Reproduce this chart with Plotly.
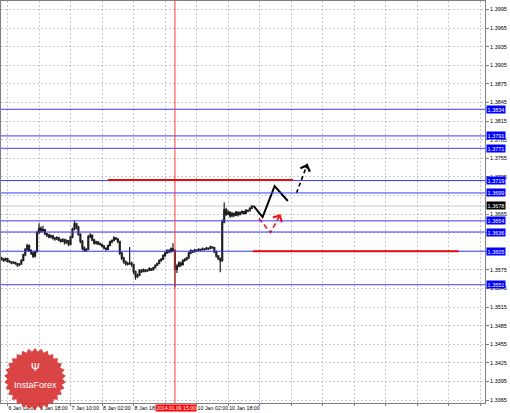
import math
import plotly.graph_objects as go

# ---------------- data ----------------
bar_index = list(range(128))

open_ = [
    1.3594, 1.3592, 1.3590, 1.3593, 1.3589, 1.3588, 1.3586, 1.3587, 1.3585, 1.3583,
    1.3584, 1.3590, 1.3599, 1.3608, 1.3614, 1.3606, 1.3602, 1.3597, 1.3604, 1.3635,
    1.3642, 1.3638, 1.3640, 1.3633, 1.3631, 1.3628, 1.3630, 1.3626, 1.3625, 1.3627,
    1.3623, 1.3621, 1.3624, 1.3619, 1.3622, 1.3616, 1.3628, 1.3641, 1.3649, 1.3644,
    1.3632, 1.3621, 1.3610, 1.3606, 1.3608, 1.3628, 1.3631, 1.3623, 1.3618, 1.3620,
    1.3617, 1.3616, 1.3613, 1.3610, 1.3608, 1.3614, 1.3620, 1.3622, 1.3626, 1.3625,
    1.3621, 1.3602, 1.3594, 1.3588, 1.3585, 1.3584, 1.3586, 1.3584, 1.3572, 1.3564,
    1.3566, 1.3574, 1.3572, 1.3575, 1.3573, 1.3574, 1.3577, 1.3575, 1.3578, 1.3582,
    1.3585, 1.3590, 1.3592, 1.3598, 1.3602, 1.3606, 1.3604, 1.3609, 1.3606, 1.3576,
    1.3581, 1.3586, 1.3583, 1.3590, 1.3592, 1.3594, 1.3602, 1.3606, 1.3604, 1.3607,
    1.3606, 1.3608, 1.3607, 1.3609, 1.3608, 1.3610, 1.3609, 1.3612, 1.3611, 1.3604,
    1.3597, 1.3593, 1.3590, 1.3652, 1.3672, 1.3665, 1.3668, 1.3662, 1.3666, 1.3663,
    1.3668, 1.3664, 1.3667, 1.3669, 1.3666, 1.3671, 1.3670, 1.3674,
]
high = [
    1.3596, 1.3594, 1.3595, 1.3594, 1.3591, 1.3589, 1.3589, 1.3588, 1.3586, 1.3586,
    1.3592, 1.3601, 1.3610, 1.3617, 1.3616, 1.3608, 1.3604, 1.3606, 1.3638, 1.3650,
    1.3645, 1.3646, 1.3641, 1.3635, 1.3633, 1.3632, 1.3631, 1.3628, 1.3629, 1.3628,
    1.3625, 1.3626, 1.3625, 1.3624, 1.3623, 1.3630, 1.3643, 1.3654, 1.3651, 1.3646,
    1.3634, 1.3623, 1.3613, 1.3610, 1.3631, 1.3634, 1.3632, 1.3625, 1.3622, 1.3621,
    1.3619, 1.3617, 1.3615, 1.3611, 1.3616, 1.3622, 1.3624, 1.3629, 1.3628, 1.3626,
    1.3622, 1.3604, 1.3596, 1.3590, 1.3588, 1.3612, 1.3588, 1.3585, 1.3574, 1.3569,
    1.3576, 1.3576, 1.3577, 1.3576, 1.3576, 1.3579, 1.3578, 1.3580, 1.3584, 1.3587,
    1.3592, 1.3594, 1.3600, 1.3604, 1.3608, 1.3608, 1.3611, 1.3618, 1.3608, 1.3584,
    1.3589, 1.3588, 1.3592, 1.3594, 1.3596, 1.3604, 1.3608, 1.3607, 1.3609, 1.3608,
    1.3610, 1.3609, 1.3611, 1.3610, 1.3612, 1.3611, 1.3614, 1.3613, 1.3612, 1.3606,
    1.3599, 1.3595, 1.3656, 1.3684, 1.3675, 1.3671, 1.3669, 1.3668, 1.3667, 1.3670,
    1.3669, 1.3669, 1.3671, 1.3670, 1.3673, 1.3672, 1.3676, 1.3679,
]
low = [
    1.3590, 1.3588, 1.3589, 1.3587, 1.3586, 1.3584, 1.3585, 1.3583, 1.3580, 1.3581,
    1.3583, 1.3589, 1.3597, 1.3605, 1.3604, 1.3599, 1.3594, 1.3595, 1.3603, 1.3633,
    1.3635, 1.3636, 1.3631, 1.3628, 1.3626, 1.3626, 1.3624, 1.3622, 1.3623, 1.3621,
    1.3619, 1.3620, 1.3616, 1.3617, 1.3613, 1.3615, 1.3626, 1.3639, 1.3640, 1.3630,
    1.3618, 1.3607, 1.3604, 1.3604, 1.3607, 1.3626, 1.3621, 1.3616, 1.3616, 1.3615,
    1.3614, 1.3611, 1.3608, 1.3606, 1.3607, 1.3613, 1.3618, 1.3621, 1.3623, 1.3618,
    1.3599, 1.3591, 1.3585, 1.3582, 1.3582, 1.3583, 1.3580, 1.3568, 1.3559, 1.3562,
    1.3565, 1.3570, 1.3571, 1.3571, 1.3572, 1.3573, 1.3573, 1.3574, 1.3577, 1.3581,
    1.3584, 1.3588, 1.3591, 1.3596, 1.3601, 1.3602, 1.3603, 1.3604, 1.3547, 1.3570,
    1.3579, 1.3580, 1.3582, 1.3588, 1.3590, 1.3593, 1.3600, 1.3602, 1.3603, 1.3604,
    1.3605, 1.3605, 1.3606, 1.3606, 1.3607, 1.3607, 1.3608, 1.3609, 1.3602, 1.3595,
    1.3591, 1.3571, 1.3588, 1.3650, 1.3662, 1.3663, 1.3659, 1.3660, 1.3660, 1.3662,
    1.3661, 1.3663, 1.3665, 1.3664, 1.3665, 1.3668, 1.3669, 1.3673,
]
close = [
    1.3592, 1.3590, 1.3593, 1.3589, 1.3588, 1.3586, 1.3587, 1.3585, 1.3583, 1.3584,
    1.3590, 1.3599, 1.3608, 1.3614, 1.3606, 1.3602, 1.3597, 1.3604, 1.3635, 1.3642,
    1.3638, 1.3640, 1.3633, 1.3631, 1.3628, 1.3630, 1.3626, 1.3625, 1.3627, 1.3623,
    1.3621, 1.3624, 1.3619, 1.3622, 1.3616, 1.3628, 1.3641, 1.3649, 1.3644, 1.3632,
    1.3621, 1.3610, 1.3606, 1.3608, 1.3628, 1.3631, 1.3623, 1.3618, 1.3620, 1.3617,
    1.3616, 1.3613, 1.3610, 1.3608, 1.3614, 1.3620, 1.3622, 1.3626, 1.3625, 1.3621,
    1.3602, 1.3594, 1.3588, 1.3585, 1.3584, 1.3586, 1.3584, 1.3572, 1.3564, 1.3566,
    1.3574, 1.3572, 1.3575, 1.3573, 1.3574, 1.3577, 1.3575, 1.3578, 1.3582, 1.3585,
    1.3590, 1.3592, 1.3598, 1.3602, 1.3606, 1.3604, 1.3609, 1.3606, 1.3576, 1.3581,
    1.3586, 1.3583, 1.3590, 1.3592, 1.3594, 1.3602, 1.3606, 1.3604, 1.3607, 1.3606,
    1.3608, 1.3607, 1.3609, 1.3608, 1.3610, 1.3609, 1.3612, 1.3611, 1.3604, 1.3597,
    1.3593, 1.3590, 1.3652, 1.3672, 1.3665, 1.3668, 1.3662, 1.3666, 1.3663, 1.3668,
    1.3664, 1.3667, 1.3669, 1.3666, 1.3671, 1.3670, 1.3674, 1.3678,
]

x_tick_vals = [3, 19, 35, 51, 67, 83, 99, 115, 131, 147, 163, 179, 195, 211, 227, 243]
x_tick_text = ["6 Jan 02:00", "6 Jan 18:00", "7 Jan 10:00", "8 Jan 02:00", "8 Jan 18:00",
               "", "10 Jan 02:00", "10 Jan 18:00", "", "", "", "", "", "", "", ""]

y_tick_vals = [1.3365, 1.3395, 1.3425, 1.3455, 1.3485, 1.3515, 1.3545, 1.3575, 1.3605,
               1.3635, 1.3665, 1.3695, 1.3725, 1.3755, 1.3785, 1.3815, 1.3845, 1.3875,
               1.3905, 1.3935, 1.3965, 1.3995]
# labels that sit fully under a price box in the reference are left blank
y_tick_text = ["1.3365", "1.3395", "1.3425", "1.3455", "1.3485", "1.3515", "1.3545", "1.3575",
               "", "", "1.3665", "", "1.3725", "1.3755", "1.3785", "1.3815",
               "1.3845", "1.3875", "1.3905", "1.3935", "1.3965", "1.3995"]

blue_levels = [1.3834, 1.3791, 1.3771, 1.3719, 1.3699, 1.3654, 1.3636, 1.3605, 1.3551]
blue_labels = ["1.3834", "1.3791", "1.3771", "1.3719", "1.3699", "1.3654", "1.3636", "1.3605", "1.3551"]

red_levels = [1.3720, 1.3605]
red_start = [54, 127.5]
red_end = [148, 232]

current_price = 1.3678
current_label = "1.3678"

vline_bar = 88
vline_label = "2014.01.09 15:00"

# projected paths (bar index, price)
proj_black_x = [127.9, 132.5, 138.6, 145.3]
proj_black_y = [1.3678, 1.3660, 1.3710, 1.3686]
proj_black_dash_x = [149.7, 155.3]
proj_black_dash_y = [1.3699, 1.3746]
proj_red_x = [130.6, 136.5, 141.6]
proj_red_y = [1.3658, 1.3635, 1.3665]

# ---------------- figure ----------------
FONT = "Liberation Sans"
W, H = 510, 413
ML, MR, MT, MB = 1, 25, 1, 10
PW, PH = W - ML - MR, H - MT - MB

fig = go.Figure()

fig.add_trace(go.Candlestick(
    x=bar_index, open=open_, high=high, low=low, close=close,
    increasing=dict(line=dict(color="#1e1e1e", width=1.2), fillcolor="#ffffff"),
    decreasing=dict(line=dict(color="#1e1e1e", width=1.2), fillcolor="#1e1e1e"),
    whiskerwidth=0, showlegend=False, hoverinfo="skip",
))

# bid line
fig.add_shape(type="line", xref="paper", x0=0, x1=1, yref="y", y0=current_price, y1=current_price,
              line=dict(color="#c8c8c8", width=1), layer="below")

# blue levels
for lvl in blue_levels:
    fig.add_shape(type="line", xref="paper", x0=0, x1=1, yref="y", y0=lvl, y1=lvl,
                  line=dict(color="#3b3bff", width=1), layer="above")

# red vertical line
fig.add_shape(type="line", xref="x", x0=vline_bar, x1=vline_bar, yref="paper", y0=0, y1=1,
              line=dict(color="#ff3a3a", width=1), layer="above")

# red levels
for lvl, xs, xe in zip(red_levels, red_start, red_end):
    fig.add_shape(type="line", xref="x", x0=xs, x1=xe, yref="y", y0=lvl, y1=lvl,
                  line=dict(color="#e01010", width=2), layer="above")

# projection paths
fig.add_trace(go.Scatter(x=proj_black_x, y=proj_black_y, mode="lines",
                         line=dict(color="#000000", width=2), showlegend=False, hoverinfo="skip"))
fig.add_trace(go.Scatter(x=proj_black_dash_x, y=proj_black_dash_y, mode="lines",
                         line=dict(color="#000000", width=1.6, dash="4px,3px"), showlegend=False, hoverinfo="skip"))
fig.add_trace(go.Scatter(x=proj_red_x, y=proj_red_y, mode="lines",
                         line=dict(color="#f01818", width=1.6, dash="5px,3px"), showlegend=False, hoverinfo="skip"))


def arrow_head(xs, ys, color, frac):
    x1, y1 = xs[-1], ys[-1]
    x0, y0 = xs[-2], ys[-2]
    tx = x1 + frac * (x0 - x1)
    ty = y1 + frac * (y0 - y1)
    fig.add_annotation(x=x1, y=y1, ax=tx, ay=ty, xref="x", yref="y", axref="x", ayref="y",
                       showarrow=True, arrowhead=4, arrowsize=1.3, arrowwidth=1.5,
                       arrowcolor=color, standoff=0, text="")


arrow_head(proj_black_x, proj_black_y, "#000000", 0.25)
arrow_head(proj_black_dash_x, proj_black_dash_y, "#000000", 0.2)
arrow_head(proj_red_x, proj_red_y, "#f01818", 0.25)

# price labels on the right axis
for lvl, txt in zip(blue_levels, blue_labels):
    fig.add_annotation(x=1, xref="paper", xanchor="left", xshift=1, y=lvl, yref="y",
                       text=txt, showarrow=False, bgcolor="#0000ff",
                       font=dict(color="#ffffff", size=5.5, family=FONT), borderpad=0.6)
fig.add_annotation(x=1, xref="paper", xanchor="left", xshift=1, y=current_price, yref="y",
                   text=current_label, showarrow=False, bgcolor="#000000",
                   font=dict(color="#ffffff", size=5.5, family=FONT), borderpad=0.6)

# vertical line time label
fig.add_annotation(x=vline_bar, xref="x", y=0, yref="paper", yanchor="top", yshift=-1, xshift=1,
                   text=vline_label, showarrow=False, bgcolor="#ff0000",
                   font=dict(color="#ffffff", size=5.1, family=FONT), borderpad=0.2)


# ---------------- logo badge ----------------
def to_paper(px, py):
    return (px - ML) / PW, (MT + PH - py) / PH


cx, cy, R, r, n = 35, 379, 31, 27.5, 30
pts = []
for k in range(2 * n):
    ang = math.pi * k / n
    rad = R if k % 2 == 0 else r
    pts.append(to_paper(cx + rad * math.sin(ang), cy - rad * math.cos(ang)))
path = "M " + " L ".join(f"{a:.5f},{b:.5f}" for a, b in pts) + " Z"
fig.add_shape(type="path", path=path, xref="paper", yref="paper",
              fillcolor="rgba(214,48,48,0.9)", line=dict(width=0), layer="above")
lx, ly = to_paper(35, 385)
fig.add_annotation(x=lx, y=ly, xref="paper", yref="paper", xanchor="center", yanchor="middle",
                   text="InstaForex", showarrow=False,
                   font=dict(color="#ffffff", size=9, family=FONT))
ix, iy = to_paper(35, 367)
fig.add_annotation(x=ix, y=iy, xref="paper", yref="paper", xanchor="center", yanchor="middle",
                   text="Ψ", showarrow=False,
                   font=dict(color="#ffffff", size=11, family="DejaVu Sans"))

fig.update_layout(
    width=W, height=H,
    margin=dict(l=ML, r=MR, t=MT, b=MB, autoexpand=False),
    paper_bgcolor="#ffffff", plot_bgcolor="#ffffff",
    font=dict(family=FONT, size=5.5, color="#000000"),
    showlegend=False,
    xaxis=dict(
        range=[-0.3, 245.4], rangeslider=dict(visible=False),
        tickmode="array", tickvals=x_tick_vals, ticktext=x_tick_text,
        ticklabelposition="outside right", tickangle=0, automargin=False,
        showgrid=True, gridcolor="#c8c8c8", griddash="2px,2px", gridwidth=1,
        ticks="outside", ticklen=2, tickcolor="#808080",
        showline=True, linecolor="#808080", linewidth=1, mirror=True,
        zeroline=False, tickfont=dict(size=5.3, family=FONT, color="#000000"),
    ),
    yaxis=dict(
        range=[1.33602, 1.40086], side="right", automargin=False,
        tickmode="array", tickvals=y_tick_vals, ticktext=y_tick_text,
        showgrid=True, gridcolor="#c8c8c8", griddash="2px,2px", gridwidth=1,
        ticks="outside", ticklen=3, tickcolor="#808080",
        showline=True, linecolor="#808080", linewidth=1, mirror=True,
        zeroline=False, tickfont=dict(size=5.5, family=FONT, color="#000000"),
    ),
)

fig.write_html(
    "out.html",
    config={"displayModeBar": False},
    post_script="document.body.style.margin='0';document.body.style.padding='0';"
                "document.documentElement.style.overflow='hidden';",
)
